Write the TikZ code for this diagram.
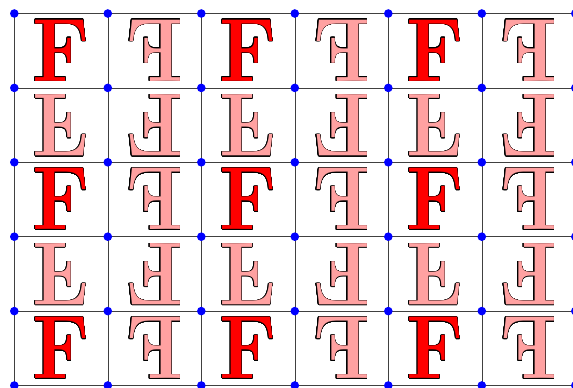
\documentclass[tikz,border=0pt]{standalone}
\usepackage[copies]{contour}
\contourlength{0.5pt}
\contournumber{32}
\colorlet{Fcol1}{red}
\colorlet{Fcol0}{red!37}
\tikzset{
  motif/.style={inner sep=0pt, outer sep=0pt, font=\fontsize{90}{90}\selectfont\bfseries},
  gridline/.style={black!75, line width=0.6pt},
  vertex/.style={blue}
}
\newcommand{\outlineF}[1]{\contour{black}{\textcolor{#1}{F}}}

\begin{document}
\begin{tikzpicture}[x=1pt,y=1pt]
\useasboundingbox (0,0) rectangle (573,388);
% letters, flipped by column and row
\foreach \i/\sx in {0/1,1/-1,2/1,3/-1,4/1,5/-1}
  \foreach \j/\sy in {0/1,1/-1,2/1,3/-1,4/1}{
    \pgfmathtruncatemacro{\k}{(\sx+\sy)==2}
    \node[motif, xscale=0.9*\sx, yscale=\sy] (F\i\j) at (61.05+93.5*\i,337.3-74.4*\j) {\outlineF{Fcol\k}};
  }
% grid
\foreach \i in {0,...,6}
  \draw[gridline] (14.3+93.5*\i,374.5) -- (14.3+93.5*\i,2.5);
\foreach \j in {0,...,5}
  \draw[gridline] (14.3,374.5-74.4*\j) -- (575.3,374.5-74.4*\j);
\foreach \i in {0,...,6}
  \foreach \j in {0,...,5}
    \fill[vertex] (14.3+93.5*\i,374.5-74.4*\j) circle (4.3);
\end{tikzpicture}
\end{document}
